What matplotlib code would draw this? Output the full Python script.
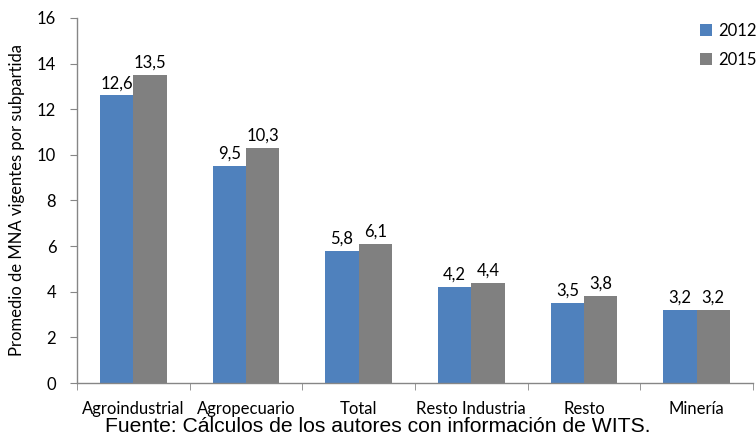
import matplotlib
matplotlib.use("Agg")
import matplotlib.pyplot as plt
import numpy as np

categories = ["Agroindustrial", "Agropecuario", "Total", "Resto Industria", "Resto", "Minería"]
v2012 = [12.6, 9.5, 5.8, 4.2, 3.5, 3.2]
v2015 = [13.5, 10.3, 6.1, 4.4, 3.8, 3.2]
series_labels = ["2012", "2015"]
yticks = [0, 2, 4, 6, 8, 10, 12, 14, 16]

plt.rcParams["font.family"] = ["Lato", "DejaVu Sans"]
fs = 12

fig = plt.figure(figsize=(7.56, 4.41), dpi=100)
ax = fig.add_axes([0.102, 0.1315, 0.894, 0.828])

x = np.arange(len(categories))
w = 0.295
b1 = ax.bar(x - w / 2, v2012, w, color="#4F81BD", label=series_labels[0])
b2 = ax.bar(x + w / 2, v2015, w, color="#808080", label=series_labels[1])

def fmt(v):
    return f"{v:.1f}".replace(".", ",")

for bars, vals in ((b1, v2012), (b2, v2015)):
    for r, v in zip(bars, vals):
        ax.annotate(fmt(v), (r.get_x() + r.get_width() / 2, v),
                    xytext=(0, 3), textcoords="offset points",
                    ha="center", va="bottom", fontsize=fs)

ax.set_xlim(-0.5, len(categories) - 0.5)
ax.set_ylim(0, 16)
ax.set_yticks(yticks)
ax.set_yticklabels([str(t) for t in yticks], fontsize=fs)
ax.set_xticks(x)
ax.set_xticklabels(categories, fontsize=fs)
ax.tick_params(axis="x", length=0, pad=13)
ax.set_xticks(np.arange(-0.5, len(categories), 1.0), minor=True)
ax.tick_params(axis="x", which="minor", length=5, color="#868686", direction="out")
ax.tick_params(axis="y", length=5, color="#868686", direction="out", pad=10)

for s in ("top", "right"):
    ax.spines[s].set_visible(False)
for s in ("left", "bottom"):
    ax.spines[s].set_color("#868686")
    ax.spines[s].set_linewidth(1.0)

ax.set_ylabel("Promedio de MNA vigentes por subpartida", fontsize=fs, labelpad=9)

leg = ax.legend(loc="upper left", bbox_to_anchor=(0.9, 1.027), frameon=False,
                fontsize=fs, handlelength=0.7, handleheight=0.7,
                handletextpad=0.35, labelspacing=0.75)

fig.text(0.5, 0.012, "Fuente: Cálculos de los autores con información de WITS.",
         ha="center", va="bottom", fontsize=15.2, family=["Liberation Sans", "DejaVu Sans"])

fig.savefig("out.png", dpi=100)
